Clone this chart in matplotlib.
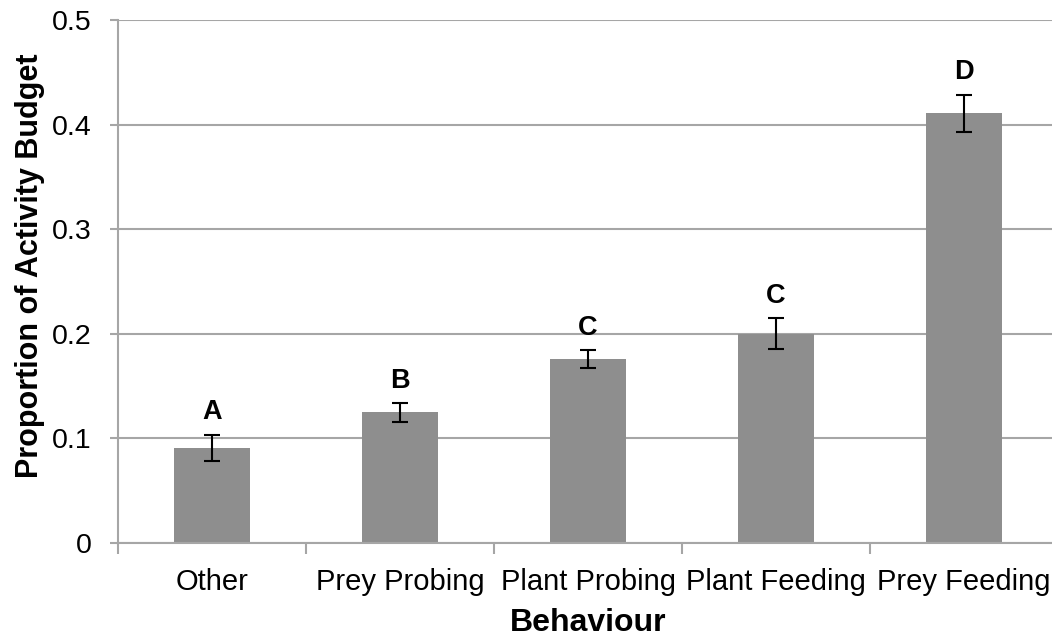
import matplotlib
matplotlib.use("Agg")
import matplotlib.pyplot as plt
import numpy as np

# Data
behaviours = ["Other", "Prey Probing", "Plant Probing", "Plant Feeding", "Prey Feeding"]
proportions = [0.091, 0.125, 0.176, 0.200, 0.411]
errors = [0.0125, 0.009, 0.0083, 0.0147, 0.0176]
letters = ["A", "B", "C", "C", "D"]
y_ticks = [0, 0.1, 0.2, 0.3, 0.4, 0.5]
y_tick_labels = ["0", "0.1", "0.2", "0.3", "0.4", "0.5"]

plt.rcParams['font.family'] = ['Liberation Sans', 'DejaVu Sans']

grid_col = '#a6a6a6'
bar_col = '#8e8e8e'

fig = plt.figure(figsize=(10.52, 6.41), dpi=100)
ax = fig.add_axes([0.1122, 0.1529, 0.8935, 0.8159])

x = np.arange(len(behaviours))
ax.bar(x, proportions, width=0.4, color=bar_col, zorder=2)
ax.errorbar(x, proportions, yerr=errors, fmt='none', ecolor='black',
            elinewidth=1.5, capsize=6, capthick=1.5, zorder=3)

# Significance letters above each error bar
for xi, val, err, lab in zip(x, proportions, errors, letters):
    ax.annotate(lab, (xi, val + err), xytext=(0, 11), textcoords='offset points',
                ha='center', va='baseline', fontsize=19.5, fontweight='bold')

ax.set_xlim(-0.5, len(behaviours) - 0.5)
ax.set_ylim(0, 0.5)

# y axis
ax.set_yticks(y_ticks)
ax.set_yticklabels(y_tick_labels, fontsize=20.5)
ax.yaxis.grid(True, color=grid_col, linewidth=1.5, zorder=0)
ax.tick_params(axis='y', length=6, width=1.5, color=grid_col, pad=13)

# x axis: tick marks between categories, labels at centres
ax.set_xticks(np.arange(-0.5, len(behaviours), 1.0))
ax.set_xticklabels([])
ax.set_xticks(x, minor=True)
ax.set_xticklabels(behaviours, minor=True, fontsize=21)
ax.tick_params(axis='x', which='major', length=8, width=1.5, color=grid_col)
ax.tick_params(axis='x', which='minor', length=0, pad=18)

for side in ['top', 'right']:
    ax.spines[side].set_visible(False)
for side in ['left', 'bottom']:
    ax.spines[side].set_color(grid_col)
    ax.spines[side].set_linewidth(1.5)
ax.set_axisbelow(True)

ax.set_xlabel('Behaviour', fontsize=23, fontweight='bold', labelpad=9)
ax.set_ylabel('Proportion of Activity Budget', fontsize=22, fontweight='bold')
ax.yaxis.set_label_coords(-0.078, 0.53)

fig.savefig('out.png', dpi=100)
